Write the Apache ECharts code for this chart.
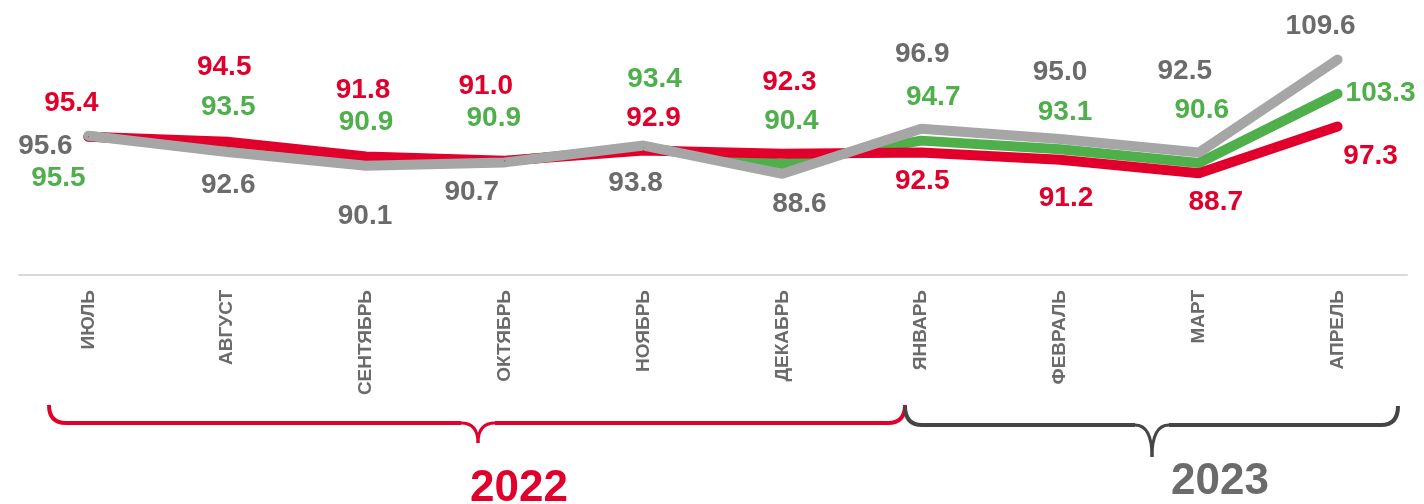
<!DOCTYPE html>
<html>
<head>
<meta charset="utf-8">
<script src="https://cdn.jsdelivr.net/npm/echarts@6/dist/echarts.min.js"></script>
<style>
  html, body { margin: 0; padding: 0; background: #fff; }
  #chart { width: 1424px; height: 504px; }
</style>
</head>
<body>
<div id="chart"></div>
<script>
// месяцы
const months = ['ИЮЛЬ', 'АВГУСТ', 'СЕНТЯБРЬ', 'ОКТЯБРЬ', 'НОЯБРЬ', 'ДЕКАБРЬ', 'ЯНВАРЬ', 'ФЕВРАЛЬ', 'МАРТ', 'АПРЕЛЬ']
const years = ['2022', '2023']

// значения рядов
const redValues = [95.4, 94.5, 91.8, 91.0, 92.9, 92.3, 92.5, 91.2, 88.7, 97.3]
const greenValues = [95.5, 93.5, 90.9, 90.9, 93.4, 90.4, 94.7, 93.1, 90.6, 103.3]
const grayValues = [95.6, 92.6, 90.1, 90.7, 93.8, 88.6, 96.9, 95.0, 92.5, 109.6]

// смещения подписей (px) относительно точки
const redOffsets = [[-17, -34], [-3, -74], [-3, -66], [-19, -74], [10, -32], [7, -71], [1, 29], [6, 39], [17, 29], [33, 30]]
const greenOffsets = [[-30, 42], [1, -40], [0, -39], [-11, -43], [11, -68], [9, -43], [12, -43], [5, -37], [3, -53], [43, -1]]
const grayOffsets = [[-43, 11], [1, 33], [-1, 51], [-33, 30], [-8, 38], [17, 30], [1, -74], [0, -67], [-14, -81], [-17, -33]]

const colors = {
  red: '#E1002B',
  green: '#4FAF4B',
  grayLine: '#A6A6A6',
  grayText: '#6B6B6B',
  dark: '#454545'
}

const FONT = '"Liberation Sans", Arial, sans-serif'

function buildSeries(name, values, offsets, lineColor, textColor) {
  return {
    name: name,
    type: 'line',
    symbol: 'circle',
    symbolSize: 1,
    showSymbol: true,
    itemStyle: { color: lineColor },
    lineStyle: { color: lineColor, width: 10, cap: 'round' },
    emphasis: { disabled: true },
    label: {
      show: true,
      position: 'inside',
      color: textColor,
      fontFamily: FONT,
      fontWeight: 'bold',
      fontSize: 28,
      formatter: p => p.value.toFixed(1)
    },
    data: values.map((v, i) => ({
      value: v,
      label: { offset: offsets[i] }
    }))
  }
}

// фигурная скобка из кривых и отрезков
function brace(x0, x1, xc, yTop, yMid, yTip, r, color) {
  const style = { fill: 'none', stroke: color, lineWidth: 4 }
  return {
    type: 'group',
    children: [
      { type: 'bezierCurve', shape: { x1: x0, y1: yTop, cpx1: x0, cpy1: yMid, x2: x0 + r, y2: yMid }, style },
      { type: 'line', shape: { x1: x0 + r, y1: yMid, x2: xc - r, y2: yMid }, style },
      { type: 'bezierCurve', shape: { x1: xc - r, y1: yMid, cpx1: xc, cpy1: yMid, x2: xc, y2: yTip }, style: Object.assign({}, style, { lineWidth: 3 }) },
      { type: 'bezierCurve', shape: { x1: xc, y1: yTip, cpx1: xc, cpy1: yMid, x2: xc + r, y2: yMid }, style: Object.assign({}, style, { lineWidth: 3 }) },
      { type: 'line', shape: { x1: xc + r, y1: yMid, x2: x1 - r, y2: yMid }, style },
      { type: 'bezierCurve', shape: { x1: x1 - r, y1: yMid, cpx1: x1, cpy1: yMid, x2: x1, y2: yTop }, style }
    ]
  }
}

const chart = echarts.init(document.getElementById('chart'))
chart.setOption({
  animation: false,
  grid: { left: 19, right: 17, top: 3, bottom: 229 },
  xAxis: {
    type: 'category',
    data: months,
    axisLine: { lineStyle: { color: '#D9D9D9', width: 2 } },
    axisTick: { show: false },
    axisLabel: {
      rotate: 90,
      margin: 15,
      color: colors.grayText,
      fontFamily: FONT,
      fontWeight: 'bold',
      fontSize: 19
    }
  },
  yAxis: {
    type: 'value',
    min: 70,
    max: 120,
    show: false
  },
  // порядок отрисовки: зелёная снизу, серая сверху
  series: [
    buildSeries('green', greenValues, greenOffsets, colors.green, colors.green),
    buildSeries('red', redValues, redOffsets, colors.red, colors.red),
    buildSeries('gray', grayValues, grayOffsets, colors.grayLine, colors.grayText)
  ],
  graphic: [
    brace(49, 905, 478, 405, 423, 443, 17, colors.red),
    brace(905, 1398, 1152, 406, 425, 457, 17, colors.dark),
    {
      type: 'text',
      x: 519,
      y: 489,
      style: {
        text: years[0],
        fill: colors.red,
        font: 'bold 44px ' + FONT,
        textAlign: 'center',
        textVerticalAlign: 'middle'
      }
    },
    {
      type: 'text',
      x: 1220,
      y: 482,
      style: {
        text: years[1],
        fill: colors.grayText,
        font: 'bold 44px ' + FONT,
        textAlign: 'center',
        textVerticalAlign: 'middle'
      }
    }
  ]
})
</script>
</body>
</html>
